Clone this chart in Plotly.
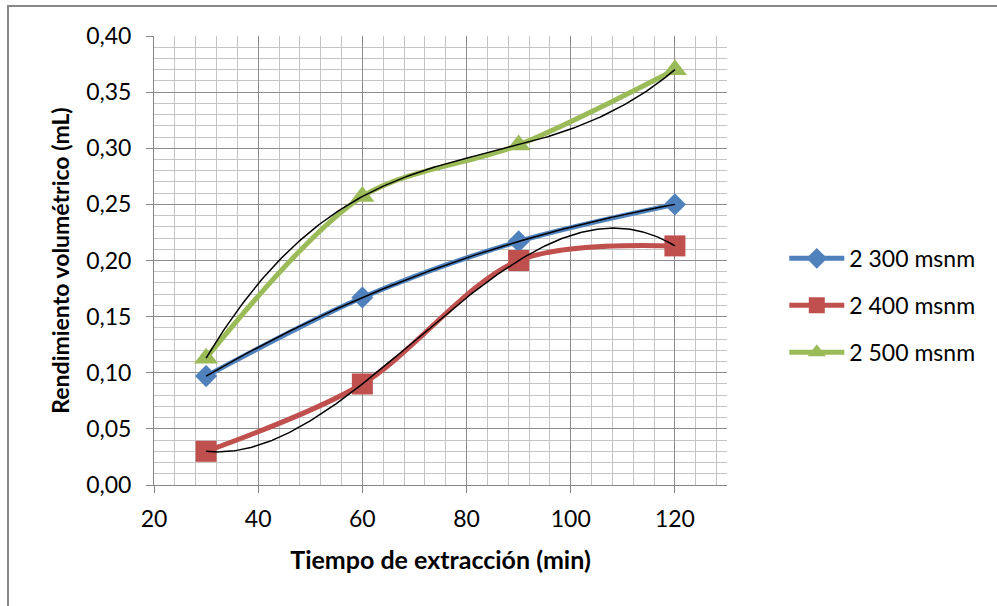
import numpy as np
import plotly.graph_objects as go

# Extraction time (min)
tiempo = [30, 60, 90, 120]

# Volumetric yield (mL) per altitude
rend_2300 = [0.097, 0.167, 0.217, 0.250]
rend_2400 = [0.030, 0.090, 0.200, 0.213]
rend_2500 = [0.113, 0.257, 0.303, 0.370]

series_names = ["2 300 msnm", "2 400 msnm", "2 500 msnm"]
series_vals = [rend_2300, rend_2400, rend_2500]
series_colors = ["#4F81BD", "#C0504D", "#9BBB59"]
series_symbols = ["diamond", "square", "triangle-up"]
series_sizes = [17, 21, 21]

FONT = "Lato"

fig = go.Figure()

for i, (name, vals, col, sym, sz) in enumerate(
    zip(series_names, series_vals, series_colors, series_symbols, series_sizes)
):
    fig.add_trace(go.Scatter(
        x=tiempo, y=vals, name=name, mode="lines+markers",
        line=dict(color=col, width=5, shape="spline", smoothing=0.9),
        marker=dict(symbol=sym, size=sz, color=col),
        legendgroup=f"g{i}",
    ))

# Third-order polynomial trend line for each series
xs = np.linspace(min(tiempo), max(tiempo), 200)
for vals in series_vals:
    coef = np.polyfit(tiempo, vals, 3)
    fig.add_trace(go.Scatter(
        x=xs, y=np.polyval(coef, xs), mode="lines",
        line=dict(color="black", width=1.5),
        showlegend=False, hoverinfo="skip",
    ))

# Chart-area border
fig.add_shape(type="rect", xref="paper", yref="paper",
              x0=-0.2548, x1=1.48, y0=-0.28, y1=1.0668,
              line=dict(color="#888888", width=2), fillcolor="rgba(0,0,0,0)",
              layer="below")

axis_common = dict(
    showline=True, linecolor="#868686", linewidth=1,
    ticks="outside", ticklen=7, tickcolor="#868686",
    showgrid=True, gridcolor="#8c8c8c", gridwidth=1,
    zeroline=False,
    tickfont=dict(family=FONT, size=23, color="black"),
)

fig.update_xaxes(
    range=[20, 130], dtick=20, tick0=20,
    minor=dict(dtick=4, showgrid=True, gridcolor="#c4c4c4", gridwidth=1),
    ticklabelstandoff=6,
    title=dict(text="<b>Tiempo de extracción (min)</b>",
               font=dict(family=FONT, size=25, color="black"), standoff=20),
    **axis_common,
)
fig.update_yaxes(
    range=[0, 0.40], dtick=0.05, tick0=0, tickformat=".2f",
    minor=dict(dtick=0.01, showgrid=True, gridcolor="#c4c4c4", gridwidth=1),
    ticklabelstandoff=10,
    title=dict(text="<b>Rendimiento volumétrico (mL)</b>",
               font=dict(family=FONT, size=23, color="black"), standoff=10),
    **axis_common,
)

fig.update_layout(
    width=997, height=606,
    margin=dict(l=154, r=270, t=36, b=121),
    paper_bgcolor="white", plot_bgcolor="white",
    separators=", ",
    font=dict(family=FONT, size=23, color="black"),
    legend=dict(
        x=1.10, y=0.40, xanchor="left", yanchor="middle",
        font=dict(family=FONT, size=23, color="black"),
        tracegroupgap=14, itemwidth=55, bgcolor="rgba(0,0,0,0)",
    ),
)

fig.write_html("out.html")
